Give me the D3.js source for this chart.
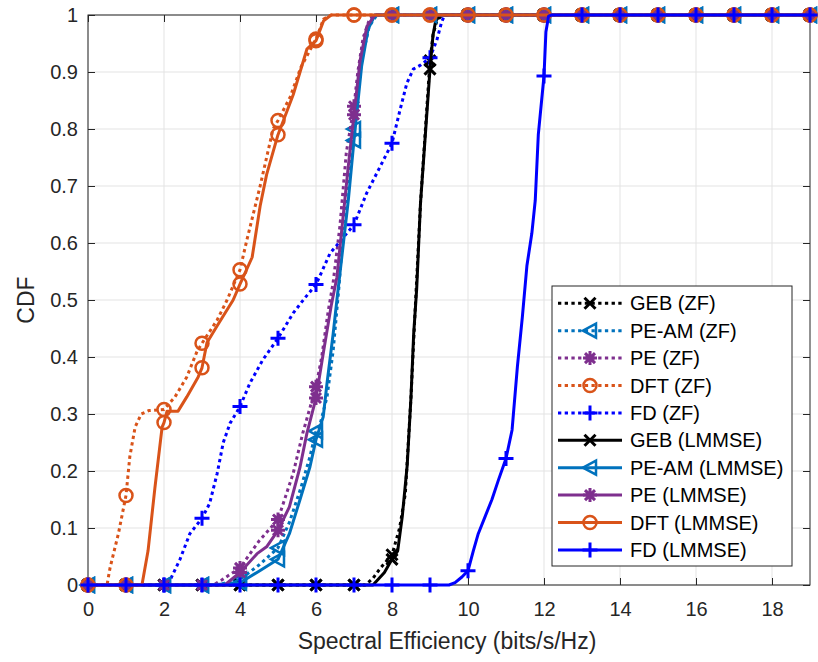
<!DOCTYPE html>
<html>
<head>
<meta charset="utf-8">
<script src="https://cdn.jsdelivr.net/npm/d3@7"></script>
<style>
  body { margin: 0; background: #fff; }
  svg { display: block; }
  text { font-family: "Liberation Sans", Arial, Helvetica, sans-serif; }
</style>
</head>
<body>
<svg id="chart" width="818" height="662"></svg>
<script>
// Axis ticks
const xTickValues = [0, 2, 4, 6, 8, 10, 12, 14, 16, 18];
const yTickValues = [0, 0.1, 0.2, 0.3, 0.4, 0.5, 0.6, 0.7, 0.8, 0.9, 1];
const yTickLabels = ["0", "0.1", "0.2", "0.3", "0.4", "0.5", "0.6", "0.7", "0.8", "0.9", "1"];

// Empirical CDFs of spectral efficiency, [bits/s/Hz, CDF]; markers sit on the integer points
const gebZf = [[0,0],[1,0],[2,0],[3,0],[4,0],[5,0],[6,0],[7,0],[7.3,0],[7.5,0.012],[7.7,0.03],[8,0.053],[8.2,0.1],[8.35,0.16],[8.5,0.33],[8.6,0.47],[8.75,0.67],[9,0.92],[9.08,0.965],[9.18,0.99],[9.32,1],[10,1],[11,1],[12,1],[13,1],[14,1],[15,1],[16,1],[17,1],[18,1],[19,1]];
const peamZf = [[0,0],[1,0],[2,0],[3,0],[3.4,0],[4,0.01],[4.5,0.035],[5,0.065],[5.3,0.11],[5.6,0.17],[5.84,0.225],[6,0.27],[6.1,0.28],[6.29,0.33],[6.45,0.41],[6.6,0.52],[6.8,0.69],[7,0.8],[7.2,0.92],[7.4,0.98],[7.6,1],[8,1],[9,1],[10,1],[11,1],[12,1],[13,1],[14,1],[15,1],[16,1],[17,1],[18,1],[19,1]];
const peZf = [[0,0],[1,0],[2,0],[3,0],[3.3,0],[3.5,0.008],[4,0.03],[4.5,0.077],[5,0.115],[5.4,0.196],[5.65,0.266],[6,0.348],[6.15,0.4],[6.32,0.48],[6.45,0.53],[6.63,0.63],[6.8,0.76],[7,0.84],[7.1,0.9],[7.24,0.96],[7.42,0.995],[7.6,1],[8,1],[9,1],[10,1],[11,1],[12,1],[13,1],[14,1],[15,1],[16,1],[17,1],[18,1],[19,1]];
const dftZf = [[0,0],[0.5,0],[0.58,0.03],[0.8,0.09],[1,0.157],[1.1,0.225],[1.24,0.277],[1.4,0.3],[1.6,0.306],[2,0.308],[2.29,0.33],[2.6,0.365],[2.87,0.41],[3,0.424],[3.4,0.465],[3.66,0.5],[4,0.553],[4.18,0.605],[4.53,0.7],[4.87,0.8],[5,0.815],[5.32,0.856],[5.6,0.908],[6,0.958],[6.2,0.993],[6.4,1],[7,1],[8,1],[9,1],[10,1],[11,1],[12,1],[13,1],[14,1],[15,1],[16,1],[17,1],[18,1],[19,1]];
const fdZf = [[0,0],[1,0],[2,0],[2.1,0],[2.42,0.045],[2.68,0.09],[3,0.117],[3.2,0.143],[3.4,0.196],[3.56,0.25],[3.74,0.284],[4,0.313],[4.26,0.354],[4.6,0.395],[5,0.433],[5.4,0.477],[5.7,0.503],[6,0.527],[6.37,0.582],[7,0.632],[7.33,0.687],[7.68,0.733],[8,0.775],[8.21,0.833],[8.39,0.88],[8.56,0.905],[8.75,0.912],[9,0.925],[9.18,0.956],[9.3,0.986],[9.38,1],[10,1],[11,1],[12,1],[13,1],[14,1],[15,1],[16,1],[17,1],[18,1],[19,1]];
const gebLmmse = [[0,0],[1,0],[2,0],[3,0],[4,0],[5,0],[6,0],[7,0],[7.5,0],[7.8,0.022],[8,0.045],[8.15,0.06],[8.27,0.12],[8.4,0.21],[8.5,0.33],[8.57,0.44],[8.65,0.52],[8.75,0.67],[9,0.905],[9.08,0.965],[9.15,0.99],[9.28,1],[10,1],[11,1],[12,1],[13,1],[14,1],[15,1],[16,1],[17,1],[18,1],[19,1]];
const peamLmmse = [[0,0],[1,0],[2,0],[3,0],[3.8,0.002],[4,0.004],[4.5,0.024],[5,0.045],[5.3,0.09],[5.58,0.15],[5.84,0.207],[6,0.255],[6.19,0.295],[6.29,0.354],[6.45,0.44],[6.55,0.5],[6.85,0.675],[7,0.78],[7.2,0.91],[7.37,0.975],[7.55,1],[8,1],[9,1],[10,1],[11,1],[12,1],[13,1],[14,1],[15,1],[16,1],[17,1],[18,1],[19,1]];
const peLmmse = [[0,0],[1,0],[2,0],[3,0],[3.6,0],[4,0.022],[4.45,0.055],[4.7,0.067],[5,0.096],[5.3,0.137],[5.58,0.207],[5.76,0.266],[6,0.328],[6.2,0.41],[6.4,0.49],[6.55,0.54],[6.85,0.735],[7,0.825],[7.16,0.92],[7.34,0.98],[7.55,1],[8,1],[9,1],[10,1],[11,1],[12,1],[13,1],[14,1],[15,1],[16,1],[17,1],[18,1],[19,1]];
const dftLmmse = [[0,0],[1,0],[1.42,0],[1.58,0.06],[1.76,0.17],[1.95,0.277],[2,0.285],[2.08,0.305],[2.37,0.305],[2.6,0.33],[2.9,0.365],[3,0.381],[3.13,0.425],[3.4,0.455],[3.82,0.5],[4,0.528],[4.32,0.575],[4.53,0.665],[4.7,0.72],[5,0.79],[5.4,0.86],[5.58,0.9],[5.76,0.94],[6,0.955],[6.2,0.99],[6.4,1],[7,1],[8,1],[9,1],[10,1],[11,1],[12,1],[13,1],[14,1],[15,1],[16,1],[17,1],[18,1],[19,1]];
const fdLmmse = [[0,0],[1,0],[2,0],[3,0],[4,0],[5,0],[6,0],[7,0],[8,0],[9,0],[9.5,0],[9.66,0.004],[9.84,0.014],[10,0.025],[10.14,0.06],[10.27,0.09],[10.45,0.12],[10.63,0.15],[10.8,0.184],[11,0.222],[11.16,0.272],[11.3,0.383],[11.43,0.47],[11.55,0.56],[11.68,0.617],[11.77,0.675],[11.85,0.79],[12,0.893],[12.05,0.97],[12.12,0.998],[12.2,1],[13,1],[14,1],[15,1],[16,1],[17,1],[18,1],[19,1]];

const seriesNames = ["GEB (ZF)", "PE-AM (ZF)", "PE (ZF)", "DFT (ZF)", "FD (ZF)",
                     "GEB (LMMSE)", "PE-AM (LMMSE)", "PE (LMMSE)", "DFT (LMMSE)", "FD (LMMSE)"];
const seriesData = [gebZf, peamZf, peZf, dftZf, fdZf, gebLmmse, peamLmmse, peLmmse, dftLmmse, fdLmmse];

// Styling per scheme
const schemeColor = { GEB: "#000000", "PE-AM": "#0072BD", PE: "#7E2F8E", DFT: "#D95319", FD: "#0000FF" };
const schemeMarker = { GEB: "x", "PE-AM": "tri", PE: "star", DFT: "circle", FD: "plus" };

const series = seriesNames.map((name, i) => {
  const scheme = name.split(" ")[0];
  return { name, data: seriesData[i], color: schemeColor[scheme], marker: schemeMarker[scheme], dotted: name.includes("(ZF)") };
});

const plot = { left: 88, right: 810, top: 15, bottom: 585 };
const x = d3.scaleLinear().domain([0, 19]).range([plot.left, plot.right]);
const y = d3.scaleLinear().domain([0, 1]).range([plot.bottom, plot.top]);

const svg = d3.select("#chart");
const axisColor = "#262626";
const gridColor = "#e3e3e3";
const tickFont = 20;

// Grid
const grid = svg.append("g");
grid.selectAll("line.gx").data(xTickValues).join("line")
  .attr("x1", d => x(d)).attr("x2", d => x(d))
  .attr("y1", plot.top).attr("y2", plot.bottom)
  .attr("stroke", gridColor).attr("stroke-width", 1);
grid.selectAll("line.gy").data(yTickValues).join("line")
  .attr("x1", plot.left).attr("x2", plot.right)
  .attr("y1", d => y(d)).attr("y2", d => y(d))
  .attr("stroke", gridColor).attr("stroke-width", 1);

// Axes with inward ticks on all four sides
function styleAxis(g) {
  g.select(".domain").remove();
  g.selectAll(".tick line").attr("stroke", axisColor).attr("stroke-width", 1);
  g.selectAll(".tick text").attr("fill", axisColor).style("font-size", tickFont + "px")
    .style("font-family", '"Liberation Sans", Arial, sans-serif');
}
svg.append("g").attr("transform", `translate(0,${plot.bottom})`)
  .call(d3.axisBottom(x).tickValues(xTickValues).tickSize(-7).tickPadding(17).tickFormat(d3.format("d")))
  .call(styleAxis);
svg.append("g").attr("transform", `translate(0,${plot.top})`)
  .call(d3.axisTop(x).tickValues(xTickValues).tickSize(-7).tickFormat(""))
  .call(styleAxis);
svg.append("g").attr("transform", `translate(${plot.left},0)`)
  .call(d3.axisLeft(y).tickValues(yTickValues).tickSize(-7).tickPadding(10).tickFormat((d, i) => yTickLabels[i]))
  .call(styleAxis);
svg.append("g").attr("transform", `translate(${plot.right},0)`)
  .call(d3.axisRight(y).tickValues(yTickValues).tickSize(-7).tickFormat(""))
  .call(styleAxis);

svg.append("rect")
  .attr("x", plot.left).attr("y", plot.top)
  .attr("width", plot.right - plot.left).attr("height", plot.bottom - plot.top)
  .attr("fill", "none").attr("stroke", axisColor).attr("stroke-width", 1);

// Axis titles
svg.append("text")
  .attr("x", 447).attr("y", 649)
  .attr("text-anchor", "middle").attr("fill", axisColor)
  .style("font-size", "23px")
  .text("Spectral Efficiency (bits/s/Hz)");
svg.append("text")
  .attr("transform", `translate(34,${(plot.top + plot.bottom) / 2}) rotate(-90)`)
  .attr("text-anchor", "middle").attr("fill", axisColor)
  .style("font-size", "23px")
  .text("CDF");

// Marker shapes centred on (0,0)
const markerPath = {
  x: "M-5.5,-5.5L5.5,5.5M-5.5,5.5L5.5,-5.5",
  plus: "M-7.5,0L7.5,0M0,-7.5L0,7.5",
  star: "M-7,0L7,0M0,-7L0,7M-5,-5L5,5M-5,5L5,-5",
  tri: "M-7,0L6,-7L6,7Z"
};

function drawMarker(g, type, color) {
  if (type === "circle") {
    g.append("circle").attr("r", 6.5).attr("fill", "none")
      .attr("stroke", color).attr("stroke-width", 2.5);
  } else {
    g.append("path").attr("d", markerPath[type]).attr("fill", "none")
      .attr("stroke", color)
      .attr("stroke-width", type === "tri" ? 2.5 : 3)
      .attr("stroke-linejoin", "miter");
  }
}

const line = d3.line().x(d => x(d[0])).y(d => y(d[1]));
const lineWidth = 3;
const dotDash = "3.3,3.4";

// Curves with their markers, drawn in legend order
const curves = svg.append("g");
series.forEach(s => {
  const g = curves.append("g");
  g.append("path").datum(s.data).attr("d", line)
    .attr("fill", "none").attr("stroke", s.color).attr("stroke-width", lineWidth)
    .attr("stroke-linejoin", "round")
    .attr("stroke-dasharray", s.dotted ? dotDash : null);
  s.data.filter(d => Number.isInteger(d[0])).forEach(d => {
    const m = g.append("g").attr("transform", `translate(${x(d[0])},${y(d[1])})`);
    drawMarker(m, s.marker, s.color);
  });
});

// Legend
const legend = { left: 552, top: 286, right: 792, bottom: 566, firstRow: 303.3, rowStep: 27.4 };
const lg = svg.append("g");
lg.append("rect")
  .attr("x", legend.left).attr("y", legend.top)
  .attr("width", legend.right - legend.left).attr("height", legend.bottom - legend.top)
  .attr("fill", "#fff").attr("stroke", axisColor).attr("stroke-width", 1);
series.forEach((s, i) => {
  const cy = legend.firstRow + i * legend.rowStep;
  const row = lg.append("g");
  row.append("line").attr("x1", 558).attr("x2", 622).attr("y1", cy).attr("y2", cy)
    .attr("stroke", s.color).attr("stroke-width", lineWidth)
    .attr("stroke-dasharray", s.dotted ? dotDash : null);
  const m = row.append("g").attr("transform", `translate(590,${cy})`);
  drawMarker(m, s.marker, s.color);
  row.append("text").attr("x", 630).attr("y", cy).attr("dy", "0.35em")
    .attr("fill", "#000").style("font-size", "20px").text(s.name);
});
</script>
</body>
</html>
